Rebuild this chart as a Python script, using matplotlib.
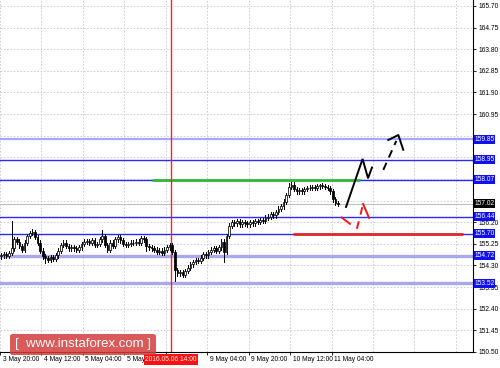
import matplotlib
matplotlib.use("Agg")
import matplotlib.pyplot as plt
from matplotlib.patches import Rectangle, FancyBboxPatch
import matplotlib.transforms as mtransforms

# ---------------- data ----------------
closes = [154.75, 154.80, 154.72, 154.85, 155.05, 155.45, 155.35, 155.15, 154.98, 155.30,
          155.60, 155.72, 155.78, 155.55, 155.30, 154.95, 154.70, 154.62, 154.55, 154.68,
          154.58, 154.75, 154.95, 155.20, 155.30, 155.15, 155.05, 155.10, 155.05, 154.98,
          155.10, 155.25, 155.35, 155.38, 155.30, 155.40, 155.20, 155.25, 155.45, 155.60,
          155.20, 155.00, 155.30, 155.15, 155.45, 155.55, 155.40, 155.25, 155.20, 155.25,
          155.30, 155.28, 155.35, 155.30, 155.50, 155.45, 155.15, 155.10, 155.05, 155.00,
          154.90, 154.95, 154.85, 155.00, 155.10, 155.20, 154.90, 154.10, 153.95, 154.00,
          153.90, 154.05, 154.20, 154.35, 154.45, 154.55, 154.50, 154.65, 154.80, 154.75,
          154.90, 155.00, 155.05, 154.95, 155.10, 155.35, 154.90, 155.60, 156.05, 156.20,
          156.15, 156.25, 156.10, 156.20, 156.15, 156.10, 156.20, 156.15, 156.25, 156.20,
          156.30, 156.25, 156.40, 156.45, 156.55, 156.50, 156.65, 156.80, 156.90, 157.10,
          157.40, 157.75, 157.85, 157.65, 157.55, 157.60, 157.55, 157.65, 157.70, 157.72,
          157.75, 157.70, 157.78, 157.82, 157.80, 157.75, 157.70, 157.55, 157.20, 157.05,
          157.02]
first_open = 154.70
wick = 0.10
high_override = {4: 156.25, 39: 155.85, 12: 155.92, 111: 157.92, 123: 157.90}
low_override = {67: 153.60, 86: 154.45, 17: 154.40, 56: 154.95}

y_ticks = [165.70, 164.75, 163.80, 162.85, 161.90, 160.95, 160.00, 159.05, 158.10,
           157.15, 156.20, 155.25, 154.30, 153.35, 152.40, 151.45, 150.50]
hidden_y_labels = [160.00, 159.05, 158.10, 157.15]
x_tick_pos = [0, 16, 32, 48, 64, 80, 96, 112, 128]
x_tick_labels = ["3 May 20:00", "4 May 12:00", "5 May 04:00", "5 May 20:00", "",
                 "9 May 04:00", "9 May 20:00", "10 May 12:00", "11 May 04:00"]
grid_x = [0, 16, 32, 48, 64, 80, 96, 112, 128, 144, 160, 176]

levels_main = [159.85, 158.95, 158.07, 156.44, 155.70, 154.72, 153.52]
level_colors = ["#a8a8ff", "#2a2aff", "#2a2aff", "#2a2aff", "#2a2aff", "#a8a8f0", "#a8a8f0"]
level_widths = [1.6, 1.0, 1.0, 1.0, 1.0, 2.4, 2.4]
current_price = 157.02
vline_x = 66.0
vline_label = "2016.05.06 14:00"

green_seg = ([58.7, 139.0], [158.07, 158.07])
red_seg = ([113.1, 178.8], [155.70, 155.70])

black_solid = ([133.6, 140.0, 142.1, 143.6], [156.87, 158.98, 158.13, 158.60])
black_dash_shaft = ([148.0, 153.0], [158.50, 159.77])
black_dash_head = ([149.9, 153.8, 155.7], [159.81, 160.03, 159.38])
red_dash_1 = ([131.9, 135.1], [156.41, 156.13])
red_dash_2 = ([137.8, 140.2], [155.91, 157.00])
red_head = ([140.2, 142.5], [157.00, 156.39])

# ---------------- figure ----------------
W, H = 500, 368
fig = plt.figure(figsize=(W / 100, H / 100), dpi=100)
fig.patch.set_facecolor("white")
ax = fig.add_axes([0, 16 / H, 473 / W, 352 / H])
ax.set_xlim(0, 473 / 2.59)
ax.set_ylim(150.50, 165.96)

FONT = "Liberation Sans"
FS = 4.8

# grid
for gy in y_ticks:
    ax.axhline(gy, color="#c8c8c8", lw=0.6, ls=(0, (2, 2)), zorder=0)
for gx in grid_x:
    ax.axvline(gx, color="#c8c8c8", lw=0.6, ls=(0, (2, 2)), zorder=0)

# levels
for lv, c, lw in zip(levels_main, level_colors, level_widths):
    ax.axhline(lv, color=c, lw=lw, zorder=1)
ax.axhline(current_price, color="#c0c0c0", lw=0.8, zorder=1)
ax.plot(*green_seg, color="#33b833", lw=2.0, zorder=2, solid_capstyle="butt")
ax.plot(*red_seg, color="#e02828", lw=2.0, zorder=2, solid_capstyle="butt")

# candles
prev = first_open
for i, c in enumerate(closes):
    o = prev
    x = i + 0.5
    hi = high_override.get(i, max(o, c) + wick)
    lo = low_override.get(i, min(o, c) - wick)
    ax.plot([x, x], [lo, hi], color="black", lw=0.7, zorder=3)
    bottom = min(o, c)
    h = max(abs(c - o), 0.02)
    fc = "white" if c >= o else "black"
    ax.add_patch(Rectangle((x - 0.33, bottom), 0.66, h, facecolor=fc,
                           edgecolor="black", lw=0.55, zorder=4))
    prev = c

# red vertical line
ax.axvline(vline_x, color="#ff2020", lw=1.0, zorder=2)

# arrows
ax.plot(*black_solid, color="black", lw=1.4, zorder=5, solid_joinstyle="miter")
ax.plot(*black_dash_shaft, color="black", lw=1.4, ls=(0, (4, 3)), zorder=5)
ax.plot(*black_dash_head, color="black", lw=1.4, zorder=5)
ax.plot(*red_dash_1, color="#f01818", lw=1.4, zorder=5)
ax.plot(*red_dash_2, color="#f01818", lw=1.4, ls=(0, (4, 3.5)), zorder=5)
ax.plot(*red_head, color="#f01818", lw=1.4, zorder=5)

# spines / ticks
for s in ["left", "top"]:
    ax.spines[s].set_visible(False)
ax.spines["right"].set_linewidth(0.8)
ax.spines["bottom"].set_linewidth(0.8)
ax.yaxis.tick_right()
ax.set_yticks(y_ticks)
ax.set_yticklabels(["" if v in hidden_y_labels else f"{v:.2f}" for v in y_ticks],
                   fontsize=FS, family=FONT)
ax.tick_params(axis="y", length=2.5, width=0.6, pad=1.5, colors="black")
ax.set_xticks(x_tick_pos)
ax.set_xticklabels([])
ax.tick_params(axis="x", length=2.5, width=0.6)

tr_x = mtransforms.blended_transform_factory(ax.transData, ax.transAxes)
for xp, lab in zip(x_tick_pos, x_tick_labels):
    if lab:
        ax.text(xp + 1.0, -0.012, lab, transform=tr_x, ha="left", va="top",
                fontsize=FS, family=FONT, clip_on=False, zorder=6)

# red date box
ax.text(vline_x, -0.011, vline_label, transform=tr_x, ha="center", va="top",
        fontsize=FS, family=FONT, color="white", clip_on=False, zorder=10,
        bbox=dict(boxstyle="square,pad=0.25", fc="#ff1010", ec="none"))

# right level labels (fixed-width boxes)
tr_y = mtransforms.blended_transform_factory(ax.transAxes, ax.transData)
box_w = 21 / 473
box_h = 9 / 352 * (165.96 - 150.50)
def level_label(val, fc):
    ax.add_patch(Rectangle((1.002, val - box_h / 2), box_w, box_h, transform=tr_y,
                           facecolor=fc, edgecolor="none", clip_on=False, zorder=9))
    ax.text(1.002 + box_w / 2, val, f"{val:.2f}", transform=tr_y, ha="center",
            va="center", fontsize=FS, family=FONT, color="white", clip_on=False, zorder=10)
for lv in levels_main:
    level_label(lv, "#1010f0")
level_label(current_price, "black")

# watermark
fig.patches.append(FancyBboxPatch((10 / W, (H - 355) / H), 146 / W, 21 / H,
                                  boxstyle="round,pad=0,rounding_size=0.006",
                                  transform=fig.transFigure, fc="#d43c3c", ec="none",
                                  alpha=0.85, zorder=20))
fig.text(83 / W, (H - 344.5) / H, "[  www.instaforex.com ]", ha="center", va="center",
         fontsize=9.5, family=FONT, color="white", zorder=21)

fig.savefig("out.png", dpi=100, facecolor="white")
